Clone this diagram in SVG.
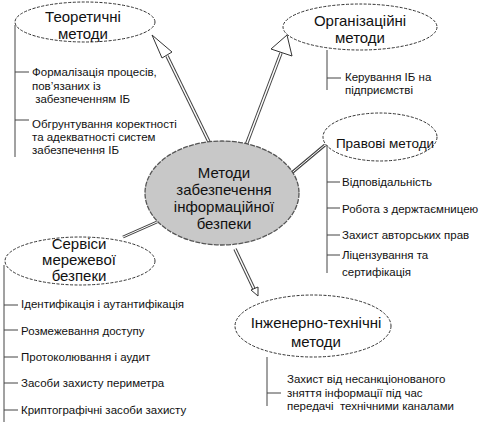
<svg xmlns="http://www.w3.org/2000/svg" width="480" height="422" viewBox="0 0 480 422">
<style>
.bg{fill:#fff}
.el{fill:#fff;stroke:#333;stroke-width:1;stroke-dasharray:3 1.5}
.ctr{fill:#c8c8c8;stroke:#555;stroke-width:1.3;stroke-dasharray:5 1.2}
.t{font-family:"Liberation Sans",Arial,sans-serif;font-size:15px;fill:#111;text-anchor:middle}
.l{font-family:"Liberation Sans",Arial,sans-serif;font-size:11.5px;fill:#111}
.ln{stroke:#444;stroke-width:1;fill:none}
.so{stroke:#444;stroke-width:3.5;fill:none}
.si{stroke:#fff;stroke-width:1.5;fill:none}
.hd{fill:#fff;stroke:#333;stroke-width:1}
</style>
<rect class="bg" width="480" height="422"/>
<g id="connectors">
<path class="so" d="M212,148 L167,56"/><path class="si" d="M212,148 L167,56"/>
<polygon class="hd" points="152,35 162,58 172,52"/>
<path class="so" d="M245,148 L281,53"/><path class="si" d="M245,148 L281,53"/>
<polygon class="hd" points="287,35 271,49 292,56"/>
<path class="so" d="M288,176 L325,145" style="stroke-width:3"/><path class="si" d="M288,176 L325,145" style="stroke-width:1"/>
<path class="so" d="M157,222 L123,237" style="stroke-width:3"/><path class="si" d="M157,222 L123,237" style="stroke-width:1"/>
<path class="so" d="M235,249 L254,289"/><path class="si" d="M235,249 L254,289"/>
<polygon class="hd" points="258,296 251,290 258,287"/>
</g>
<g id="center">
<ellipse class="ctr" cx="222" cy="193" rx="77" ry="52"/>
<text class="t" x="224" y="178">Методи</text>
<text class="t" x="224" y="195">забезпечення</text>
<text class="t" x="224" y="212">інформаційної</text>
<text class="t" x="224" y="229">безпеки</text>
</g>
<g id="theoretical">
<ellipse class="el" cx="85" cy="22" rx="70" ry="20"/>
<text class="t" x="83" y="22">Теоретичні</text>
<text class="t" x="83" y="39">методи</text>
<path class="ln" d="M15,25 V157 M15,72 H29 M15,120 H29"/>
<text class="l" x="32" y="76">Формалізація процесів,</text>
<text class="l" x="32" y="90">пов’язаних із</text>
<text class="l" x="32" y="103" xml:space="preserve"> забезпеченням ІБ</text>
<text class="l" x="32" y="128">Обгрунтування коректності</text>
<text class="l" x="32" y="141">та адекватності систем</text>
<text class="l" x="32" y="154">забезпечення ІБ</text>
</g>
<g id="organizational">
<ellipse class="el" cx="360" cy="27" rx="77" ry="23"/>
<text class="t" x="360" y="26">Організаційні</text>
<text class="t" x="360" y="43">методи</text>
<path class="ln" d="M327,50 V90 M327,78 H341"/>
<text class="l" x="345" y="81">Керування ІБ на</text>
<text class="l" x="345" y="94">підприємстві</text>
</g>
<g id="legal">
<ellipse class="el" cx="380" cy="137" rx="57" ry="24"/>
<text class="t" x="385" y="148" style="font-size:13.5px">Правові методи</text>
<path class="ln" d="M327,145 V273 M327,182 H340 M327,208 H340 M327,235 H340 M327,255 H340"/>
<text class="l" x="342" y="186">Відповідальність</text>
<text class="l" x="342" y="213">Робота з держтаємницею</text>
<text class="l" x="342" y="239">Захист авторських прав</text>
<text class="l" x="342" y="259">Ліцензування та</text>
<text class="l" x="342" y="276">сертифікація</text>
</g>
<g id="network">
<ellipse class="el" cx="80" cy="261" rx="75" ry="24"/>
<text class="t" x="79" y="249">Сервіси</text>
<text class="t" x="79" y="265">мережевої</text>
<text class="t" x="79" y="281">безпеки</text>
<path class="ln" d="M4,265 V422 M4,305 H18 M4,330 H18 M4,357 H18 M4,383 H18 M4,410 H18"/>
<text class="l" x="21" y="308">Ідентифікація і аутантифікація</text>
<text class="l" x="21" y="335">Розмежевання доступу</text>
<text class="l" x="21" y="361">Протоколювання і аудит</text>
<text class="l" x="21" y="387">Засоби захисту периметра</text>
<text class="l" x="21" y="414">Криптографічні засоби захисту</text>
</g>
<g id="engineering">
<ellipse class="el" cx="313" cy="326" rx="78" ry="31"/>
<text class="t" x="316" y="328">Інженерно-технічні</text>
<text class="t" x="316" y="347">методи</text>
<path class="ln" d="M267,357 V406 M267,393 H281"/>
<text class="l" x="287" y="383">Захист від несанкціонованого</text>
<text class="l" x="287" y="397">зняття інформації під час</text>
<text class="l" x="287" y="410" xml:space="preserve">передачі  технічними каналами</text>
</g>
</svg>
